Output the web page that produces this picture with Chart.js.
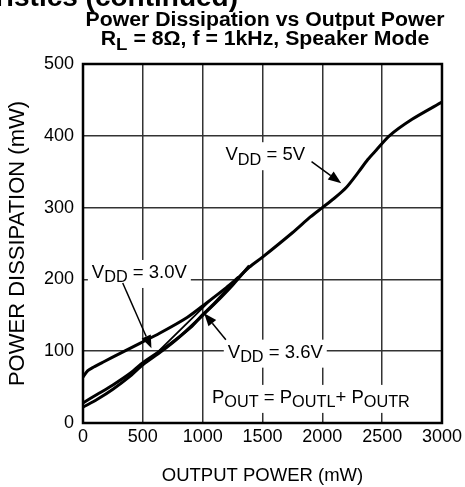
<!DOCTYPE html>
<html>
<head>
<meta charset="utf-8">
<script src="https://cdn.jsdelivr.net/npm/chart.js@4"></script>
<style>
  body { margin: 0; background: #fff; }
  canvas { display: block; }
</style>
</head>
<body>
<canvas id="grafica" width="465" height="487"></canvas>
<script>
// curves: [output power mW, dissipation mW]
const vdd5 = [[0,28],[120,40],[250,53],[400,70],[500,84],[650,101],[750,113],[900,133],[1000,151],
  [1100,167],[1250,194],[1390,217],[1500,231],[1750,265],[1900,287],[2000,300],[2100,313],
  [2200,328],[2300,349],[2380,367],[2450,380],[2560,400],[2750,423],[3000,447]];
const vdd36 = [[0,22],[120,33],[250,47],[400,66],[500,81],[650,99],[800,119],[1000,150],
  [1100,166],[1250,192],[1390,219]];
const vdd30 = [[0,64],[40,73],[90,78],[170,85],[310,97],[475,111],[640,125],[870,147],
  [1030,167],[1200,189],[1300,203]];
const vdd30Return = [[600,95],[1090,175]];

const xTicks = [0, 500, 1000, 1500, 2000, 2500, 3000];
const yTicks = [0, 100, 200, 300, 400, 500];

const FAM = "'Liberation Sans', Arial, Helvetica, sans-serif";

// draws text pieces, {sub: '..'} parts are smaller and lowered
function richText(ctx, parts, x, y, size, weight) {
  let cx = x;
  parts.forEach(function (p) {
    const sub = typeof p !== 'string';
    const s = sub ? p.sub : p;
    ctx.font = weight + ' ' + (sub ? size * 0.88 : size) + 'px ' + FAM;
    ctx.fillText(s, cx, y + (sub ? size * 0.24 : 0));
    cx += ctx.measureText(s).width;
  });
  return cx - x;
}

function textWidth(ctx, parts, size, weight) {
  let w = 0;
  parts.forEach(function (p) {
    const sub = typeof p !== 'string';
    ctx.font = weight + ' ' + (sub ? size * 0.88 : size) + 'px ' + FAM;
    w += ctx.measureText(sub ? p.sub : p).width;
  });
  return w;
}

function arrow(ctx, x1, y1, x2, y2) {
  const a = Math.atan2(y2 - y1, x2 - x1);
  const len = 13, half = 5;
  ctx.beginPath();
  ctx.moveTo(x1, y1);
  ctx.lineTo(x2 - Math.cos(a) * len, y2 - Math.sin(a) * len);
  ctx.lineWidth = 1.5;
  ctx.stroke();
  ctx.beginPath();
  ctx.moveTo(x2, y2);
  ctx.lineTo(x2 - Math.cos(a) * len - Math.sin(a) * half, y2 - Math.sin(a) * len + Math.cos(a) * half);
  ctx.lineTo(x2 - Math.cos(a) * len + Math.sin(a) * half, y2 - Math.sin(a) * len - Math.cos(a) * half);
  ctx.closePath();
  ctx.fill();
}

const labels = [
  { parts: ['V', {sub: 'DD'}, ' = 5V'], at: [1191, 366], arrow: [[1910, 364], [2158, 334]] },
  { parts: ['V', {sub: 'DD'}, ' = 3.0V'], at: [74, 202], arrow: [[332, 195], [572, 104]] },
  { parts: ['V', {sub: 'DD'}, ' = 3.6V'], at: [1210, 91], arrow: [[1194, 116], [1012, 153]] },
  { parts: ['P', {sub: 'OUT'}, ' = P', {sub: 'OUTL'}, '+ P', {sub: 'OUTR'}], at: [1078, 28] }
];
const LBL = 18.5;

const annotate = {
  id: 'annotate',
  beforeDatasetsDraw(chart) {
    const ctx = chart.ctx, xs = chart.scales.x, ys = chart.scales.y;
    ctx.save();
    labels.forEach(function (l) {
      const x = xs.getPixelForValue(l.at[0]), y = ys.getPixelForValue(l.at[1]);
      const w = textWidth(ctx, l.parts, LBL, 'normal');
      ctx.fillStyle = '#fff';
      ctx.fillRect(x - 4, y - 18, w + 8, 28);
      ctx.fillStyle = '#000';
      ctx.textBaseline = 'alphabetic';
      ctx.textAlign = 'left';
      richText(ctx, l.parts, x, y, LBL, 'normal');
    });
    ctx.restore();
  },
  afterDatasetsDraw(chart) {
    const ctx = chart.ctx, xs = chart.scales.x, ys = chart.scales.y, a = chart.chartArea;
    ctx.save();
    ctx.strokeStyle = '#000';
    ctx.fillStyle = '#000';
    labels.forEach(function (l) {
      if (!l.arrow) return;
      arrow(ctx, xs.getPixelForValue(l.arrow[0][0]), ys.getPixelForValue(l.arrow[0][1]),
        xs.getPixelForValue(l.arrow[1][0]), ys.getPixelForValue(l.arrow[1][1]));
    });
    ctx.lineWidth = 2.5;
    ctx.strokeRect(a.left, a.top, a.right - a.left, a.bottom - a.top);
    ctx.restore();
  },
  afterDraw(chart) {
    const ctx = chart.ctx;
    ctx.save();
    ctx.fillStyle = '#000';
    ctx.textBaseline = 'alphabetic';
    // page heading, mostly above the top edge
    ctx.font = 'bold 28px ' + FAM;
    ctx.textAlign = 'right';
    ctx.fillText('Typical Performance Characteristics (continued)', 238, 6);
    // chart title, set a little wide
    ctx.textAlign = 'left';
    const t1 = ['Power Dissipation vs Output Power'];
    const t2 = ['R', {sub: 'L'}, ' = 8\u03A9, f = 1kHz, Speaker Mode'];
    const size = 19.5, sx = 1.09, cx = 265;
    ctx.translate(cx, 0);
    ctx.scale(sx, 1);
    richText(ctx, t1, -textWidth(ctx, t1, size, 'bold') / 2, 26, size, 'bold');
    richText(ctx, t2, -textWidth(ctx, t2, size, 'bold') / 2, 45, size, 'bold');
    ctx.restore();
  }
};

const line = function (data, width) {
  return {
    data: data.map(function (p) { return { x: p[0], y: p[1] }; }),
    showLine: true,
    borderColor: '#000',
    borderWidth: width,
    pointRadius: 0,
    tension: 0.25,
    fill: false
  };
};

const tickFont = { family: FAM, size: 18 };
const plain = function (v) { return String(v); };

new Chart(document.getElementById('grafica').getContext('2d'), {
  type: 'scatter',
  data: {
    datasets: [line(vdd30, 3), line(vdd30Return, 1.8), line(vdd36, 3), line(vdd5, 3)]
  },
  options: {
    responsive: false,
    animation: false,
    devicePixelRatio: 1,
    layout: { padding: { top: 64, right: 21, left: 0, bottom: 0 } },
    plugins: { legend: { display: false }, tooltip: { enabled: false } },
    scales: {
      x: {
        type: 'linear', min: 0, max: 3000,
        afterFit: function (s) { s.height = 64; },
        afterBuildTicks: function (s) { s.ticks = xTicks.map(function (v) { return { value: v }; }); },
        ticks: { font: tickFont, color: '#000', padding: 3, maxRotation: 0, callback: plain },
        grid: { color: '#333', lineWidth: 1.5, drawTicks: false },
        border: { display: false },
        title: { display: true, text: 'OUTPUT POWER (mW)', font: { family: FAM, size: 18.5 }, color: '#000', padding: { top: 0, bottom: 0 } }
      },
      y: {
        type: 'linear', min: 0, max: 500,
        afterFit: function (s) { s.width = 83; },
        afterBuildTicks: function (s) { s.ticks = yTicks.map(function (v) { return { value: v }; }); },
        ticks: { font: tickFont, color: '#000', padding: 9, callback: plain },
        grid: { color: '#333', lineWidth: 1.5, drawTicks: false },
        border: { display: false },
        title: { display: true, text: 'POWER DISSIPATION (mW)', font: { family: FAM, size: 22 }, color: '#000', padding: { top: 5, bottom: 0 } }
      }
    }
  },
  plugins: [annotate]
});
</script>
</body>
</html>
